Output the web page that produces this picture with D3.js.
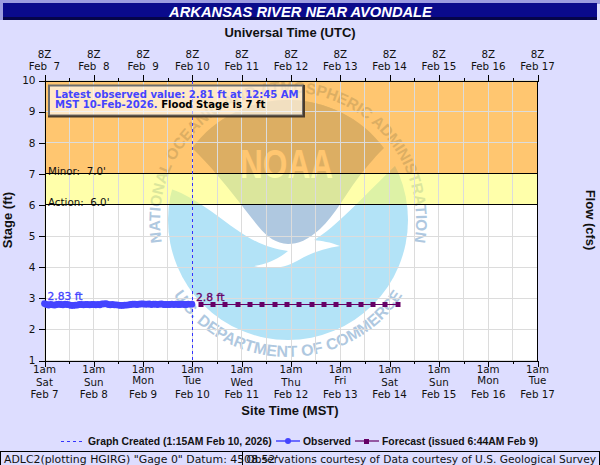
<!DOCTYPE html>
<html>
<head>
<meta charset="utf-8">
<script src="https://cdn.jsdelivr.net/npm/d3@7"></script>
<style>
  html, body { margin: 0; padding: 0; background: #ddddff; }
  svg { display: block; }
  text { font-family: "DejaVu Sans", sans-serif; white-space: pre; fill: #111; }
  .arial { font-family: "Liberation Sans", sans-serif; }
  .axis path, .axis line { stroke: #000; shape-rendering: crispEdges; }
</style>
</head>
<body>
<svg id="chart" width="600" height="465"></svg>
<script>
const title = 'ARKANSAS RIVER NEAR AVONDALE';

// day labels, one per day tick
const dayNames = ['Sat', 'Sun', 'Mon', 'Tue', 'Wed', 'Thu', 'Fri', 'Sat', 'Sun', 'Mon', 'Tue'];
const dateLabels = ['Feb 7', 'Feb 8', 'Feb 9', 'Feb 10', 'Feb 11', 'Feb 12', 'Feb 13', 'Feb 14', 'Feb 15', 'Feb 16', 'Feb 17'];
const dateLabelsTop = ['Feb  7', 'Feb  8', 'Feb  9', 'Feb 10', 'Feb 11', 'Feb 12', 'Feb 13', 'Feb 14', 'Feb 15', 'Feb 16', 'Feb 17'];
const stageTicks = [1, 2, 3, 4, 5, 6, 7, 8, 9, 10];

// hourly stage from 1am Feb 7
const observed = [
  2.83, 2.80, 2.78, 2.80, 2.79, 2.78, 2.80, 2.81, 2.80, 2.79, 2.81, 2.80,
  2.79, 2.77, 2.77, 2.78, 2.78, 2.80, 2.80, 2.79, 2.80, 2.80, 2.79, 2.80,
  2.80, 2.79, 2.80, 2.79, 2.82, 2.82, 2.83, 2.80, 2.79, 2.80, 2.79, 2.79,
  2.78, 2.77, 2.77, 2.78, 2.78, 2.79, 2.80, 2.81, 2.81, 2.80, 2.81, 2.82,
  2.82, 2.81, 2.81, 2.82, 2.80, 2.81, 2.81, 2.80, 2.81, 2.82, 2.80, 2.80,
  2.80, 2.80, 2.81, 2.80, 2.81, 2.80, 2.80, 2.81, 2.80, 2.80, 2.81, 2.81
];
// forecast every 6 hours from 5am Feb 10
const forecast = [2.8, 2.8, 2.8, 2.8, 2.8, 2.8, 2.8, 2.8, 2.8, 2.8, 2.8, 2.8, 2.8, 2.8, 2.8, 2.8, 2.8];

const HOUR = 3600000;
const start = Date.UTC(2026, 1, 7, 1);
const end = Date.UTC(2026, 1, 17, 1);
const created = Date.UTC(2026, 1, 10, 1, 15);
const forecastStart = Date.UTC(2026, 1, 10, 5);
const lastObserved = Date.UTC(2026, 1, 10, 0, 45);

const minorStage = 7, actionStage = 6;

const svg = d3.select('#chart');
const x = d3.scaleUtc().domain([start, end]).range([44.5, 537.5]);
const y = d3.scaleLinear().domain([1, 10]).range([360.5, 80.5]);

const dayTicks = d3.range(dayNames.length).map(i => start + i * 24 * HOUR);
const halfTicks = d3.range(dayNames.length - 1).map(i => start + (i * 24 + 12) * HOUR);

// title bar
svg.append('rect').attr('width', 600).attr('height', 465).attr('fill', '#ddddff');
svg.append('rect').attr('width', 600).attr('height', 4).attr('fill', '#9c9ce0');
svg.append('rect').attr('x', 0).attr('y', 3).attr('width', 3).attr('height', 17).attr('fill', '#9c9ce0');
svg.append('rect').attr('x', 3).attr('y', 3).attr('width', 594).attr('height', 15).attr('fill', '#0a0a8c');
svg.append('rect').attr('x', 3).attr('y', 17).attr('width', 594).attr('height', 3).attr('fill', '#05054a');
svg.append('text').attr('class', 'arial').attr('x', 300.5).attr('y', 17)
  .attr('text-anchor', 'middle').attr('font-size', 14.7).attr('font-weight', 'bold').attr('font-style', 'italic')
  .style('fill', '#fff').text(title);

svg.append('rect').attr('x', x(start)).attr('y', y(10)).attr('width', x(end) - x(start)).attr('height', y(1) - y(10)).attr('fill', '#fff');

// NOAA logo, sits under the flood bands
const logo = svg.append('g').attr('class', 'logo');
const lx = 288, ly = 220, lr = 120;
logo.append('circle').attr('cx', lx).attr('cy', ly).attr('r', lr).attr('fill', '#b3e3f7');
logo.append('path').attr('fill', '#fff')
  .attr('d', 'M160,186 C190,192 215,215 240,232 C258,244 272,249 288,251 C280,258 268,264 254,266 C270,270 285,268 297,261 C310,253 325,248 340,246 C330,242 322,241 314,240 C335,228 365,195 398,163 L400,120 L170,120 Z');
logo.append('path').attr('fill', '#afc8e0')
  .attr('d', `M192,148 A${lr},${lr} 0 0 1 384,148 C372,160 366,168 358,178 C345,195 335,215 320,229 C308,240 298,244 288,244 C276,243 268,238 258,226 C245,210 232,192 218,176 C210,166 200,156 192,148 Z`);
logo.append('text').attr('class', 'arial').attr('x', 286.5).attr('y', 178).attr('text-anchor', 'middle').attr('font-size', 41).attr('font-weight', 'bold')
  .attr('textLength', 93).attr('lengthAdjust', 'spacingAndGlyphs').style('fill', '#fff').text('NOAA');
const defs = svg.append('defs');
defs.append('path').attr('id', 'arcTop').attr('d', 'M177,284 A128,128 0 1 1 399,284');
defs.append('path').attr('id', 'arcBottom').attr('d', 'M151,220 A137,137 0 0 0 425,220');
logo.append('text').attr('class', 'arial').attr('font-size', 15.5).attr('font-weight', 'bold').style('fill', '#afc8e0')
  .append('textPath').attr('href', '#arcTop').attr('startOffset', '50%').attr('text-anchor', 'middle')
  .text('NATIONAL OCEANIC AND ATMOSPHERIC ADMINISTRATION');
logo.append('text').attr('class', 'arial').attr('font-size', 16).attr('font-weight', 'bold').style('fill', '#afc8e0')
  .append('textPath').attr('href', '#arcBottom').attr('startOffset', '50%').attr('text-anchor', 'middle')
  .text('U.S. DEPARTMENT OF COMMERCE');

// flood bands
svg.append('rect').attr('x', x(start)).attr('y', y(10)).attr('width', x(end) - x(start)).attr('height', y(minorStage) - y(10))
  .attr('fill', 'rgb(255,155,4)').attr('opacity', 0.57);
svg.append('rect').attr('x', x(start)).attr('y', y(minorStage)).attr('width', x(end) - x(start)).attr('height', y(actionStage) - y(minorStage))
  .attr('fill', 'rgb(255,255,100)').attr('opacity', 0.55);

// grid
const grid = svg.append('g').attr('stroke', '#dcdcdc').attr('stroke-width', 1).attr('shape-rendering', 'crispEdges');
dayTicks.concat(halfTicks).forEach(t => {
  grid.append('line').attr('x1', x(t)).attr('x2', x(t)).attr('y1', y(10)).attr('y2', y(1));
});
stageTicks.forEach(s => {
  grid.append('line').attr('x1', x(start)).attr('x2', x(end)).attr('y1', y(s)).attr('y2', y(s));
});

// stage lines
[[minorStage, "Minor:  7.0'"], [actionStage, "Action:  6.0'"]].forEach(([s, label]) => {
  svg.append('text').attr('x', 48).attr('y', y(s) + 1).attr('font-size', 10.3).text(label);
  svg.append('line').attr('x1', x(start)).attr('x2', x(end)).attr('y1', y(s)).attr('y2', y(s))
    .attr('stroke', '#000').attr('shape-rendering', 'crispEdges');
});

// axes
const axisBottomMinor = d3.axisBottom(x).tickValues(halfTicks).tickSize(3).tickFormat('');
const axisBottomMajor = d3.axisBottom(x).tickValues(dayTicks).tickSize(6).tickFormat('');
const axisTopMinor = d3.axisTop(x).tickValues(halfTicks).tickSize(3).tickFormat('');
const axisTopMajor = d3.axisTop(x).tickValues(dayTicks).tickSize(6).tickFormat('');
[axisBottomMinor, axisBottomMajor].forEach(a => {
  svg.append('g').attr('class', 'axis').attr('transform', `translate(0,${y(1)})`).call(a);
});
[axisTopMinor, axisTopMajor].forEach(a => {
  svg.append('g').attr('class', 'axis').attr('transform', `translate(0,${y(10)})`).call(a);
});
svg.append('g').attr('class', 'axis').attr('transform', `translate(${x(start)},0)`)
  .call(d3.axisLeft(y).tickValues(stageTicks).tickSize(6).tickFormat(d3.format('d')))
  .selectAll('text').attr('font-size', 10.5).attr('font-family', '"DejaVu Sans"').style('fill', '#111');
svg.append('line').attr('x1', x(end)).attr('x2', x(end)).attr('y1', y(10)).attr('y2', y(1))
  .attr('stroke', '#000').attr('shape-rendering', 'crispEdges');

// tick labels
dayTicks.forEach((t, i) => {
  const cx = x(t);
  const nudge = ['Mon', 'Tue', 'Fri'].includes(dayNames[i]) ? -2 : 0;
  const put = (yy, s) => svg.append('text').attr('x', cx).attr('y', yy).attr('text-anchor', 'middle').attr('font-size', 10.3).text(s);
  put(58, '8Z');
  put(70, dateLabelsTop[i]);
  put(373, '1am');
  put(386 + nudge, dayNames[i]);
  put(398, dateLabels[i]);
});

// axis titles
const axisTitle = (attrs, s) => {
  const t = svg.append('text').attr('class', 'arial').attr('text-anchor', 'middle').attr('font-size', 13).attr('font-weight', 'bold').text(s);
  Object.keys(attrs).forEach(k => t.attr(k, attrs[k]));
};
axisTitle({ x: 290, y: 36.5 }, 'Universal Time (UTC)');
axisTitle({ x: 290, y: 415 }, 'Site Time (MST)');
axisTitle({ transform: 'translate(12,220) rotate(-90)' }, 'Stage (ft)');
axisTitle({ transform: 'translate(586,220) rotate(90)' }, 'Flow (cfs)');

// graph created marker
svg.append('line').attr('x1', x(created)).attr('x2', x(created)).attr('y1', y(10)).attr('y2', y(1))
  .attr('stroke', '#3333ff').attr('stroke-dasharray', '3,3').attr('shape-rendering', 'crispEdges');

// observed series
const obsColor = '#4444ff', fcColor = '#660066';
const obsData = observed.map((v, i) => ({ t: i === observed.length - 1 ? lastObserved : start + i * HOUR, v }));
const line = d3.line().x(d => x(d.t)).y(d => y(d.v));
svg.append('path').datum(obsData).attr('d', line).attr('fill', 'none').attr('stroke', obsColor).attr('stroke-width', 1.5);
svg.selectAll('.obs').data(obsData).enter().append('circle').attr('class', 'obs')
  .attr('cx', d => x(d.t)).attr('cy', d => y(d.v)).attr('r', 3.4).attr('fill', obsColor);

// forecast series
const fcData = forecast.map((v, i) => ({ t: forecastStart + i * 6 * HOUR, v }));
svg.append('path').datum(fcData).attr('d', line).attr('fill', 'none').attr('stroke', fcColor).attr('stroke-width', 1.2);
svg.selectAll('.fc').data(fcData).enter().append('rect').attr('class', 'fc')
  .attr('x', d => Math.round(x(d.t)) - 2.5).attr('y', d => y(d.v) - 2.5).attr('width', 5).attr('height', 5).attr('fill', fcColor);

// end point labels
svg.append('text').attr('x', 47.5).attr('y', 300).attr('font-size', 10.7).attr('stroke', obsColor).attr('stroke-width', 0.3).style('fill', obsColor).text(observed[0] + ' ft');
svg.append('text').attr('x', 196).attr('y', 301).attr('font-size', 10.8).attr('stroke', fcColor).attr('stroke-width', 0.3).style('fill', fcColor).text(forecast[0] + ' ft');

// latest value note
svg.append('rect').attr('x', 49).attr('y', 85.5).attr('width', 254).attr('height', 30)
  .attr('fill', '#fff').attr('fill-opacity', 0.6).attr('stroke', '#6e6e6e').attr('stroke-width', 2);
svg.append('path').attr('d', 'M304,85 V116.5 H48').attr('fill', 'none').attr('stroke', '#4a3c2c').attr('stroke-width', 2);
svg.append('text').attr('x', 55).attr('y', 98).attr('font-size', 10.1).attr('font-weight', 'bold').style('fill', obsColor)
  .text('Latest observed value: 2.81 ft at 12:45 AM');
const note2 = svg.append('text').attr('x', 55).attr('y', 108).attr('font-size', 10.1).attr('font-weight', 'bold');
note2.append('tspan').style('fill', obsColor).text('MST 10-Feb-2026.');
note2.append('tspan').style('fill', '#000').text(' Flood Stage is 7 ft');

// legend
const legendY = 441;
svg.append('line').attr('x1', 61).attr('x2', 82).attr('y1', legendY).attr('y2', legendY)
  .attr('stroke', '#3333ff').attr('stroke-dasharray', '3,3').attr('shape-rendering', 'crispEdges');
svg.append('text').attr('class', 'arial').attr('x', 88).attr('y', legendY + 4).attr('font-size', 10.4).attr('font-weight', 'bold').text('Graph Created (1:15AM Feb 10, 2026)');
svg.append('line').attr('x1', 276).attr('x2', 300).attr('y1', legendY).attr('y2', legendY).attr('stroke', obsColor).attr('stroke-width', 1.5);
svg.append('circle').attr('cx', 288).attr('cy', legendY).attr('r', 3).attr('fill', obsColor);
svg.append('text').attr('class', 'arial').attr('x', 303).attr('y', legendY + 4).attr('font-size', 10.4).attr('font-weight', 'bold').text('Observed');
svg.append('line').attr('x1', 355).attr('x2', 379).attr('y1', legendY).attr('y2', legendY).attr('stroke', fcColor).attr('stroke-width', 1.2);
svg.append('rect').attr('x', 364).attr('y', legendY - 2).attr('width', 5).attr('height', 5).attr('fill', fcColor);
svg.append('text').attr('class', 'arial').attr('x', 382).attr('y', legendY + 4).attr('font-size', 10.4).attr('font-weight', 'bold').text('Forecast (issued 6:44AM Feb 9)');

// footer
svg.append('rect').attr('x', 0.5).attr('y', 451.5).attr('width', 599).attr('height', 20).attr('fill', 'none').attr('stroke', '#000');
svg.append('line').attr('x1', 242.5).attr('x2', 242.5).attr('y1', 451).attr('y2', 465).attr('stroke', '#000');
svg.append('text').attr('x', 4).attr('y', 463).attr('font-size', 10.9).text('ADLC2(plotting HGIRG) "Gage 0" Datum: 4508.52\'');
svg.append('text').attr('x', 596).attr('y', 463).attr('text-anchor', 'end').attr('font-size', 10.65).text('Observations courtesy of Data courtesy of U.S. Geological Survey');
</script>
</body>
</html>
